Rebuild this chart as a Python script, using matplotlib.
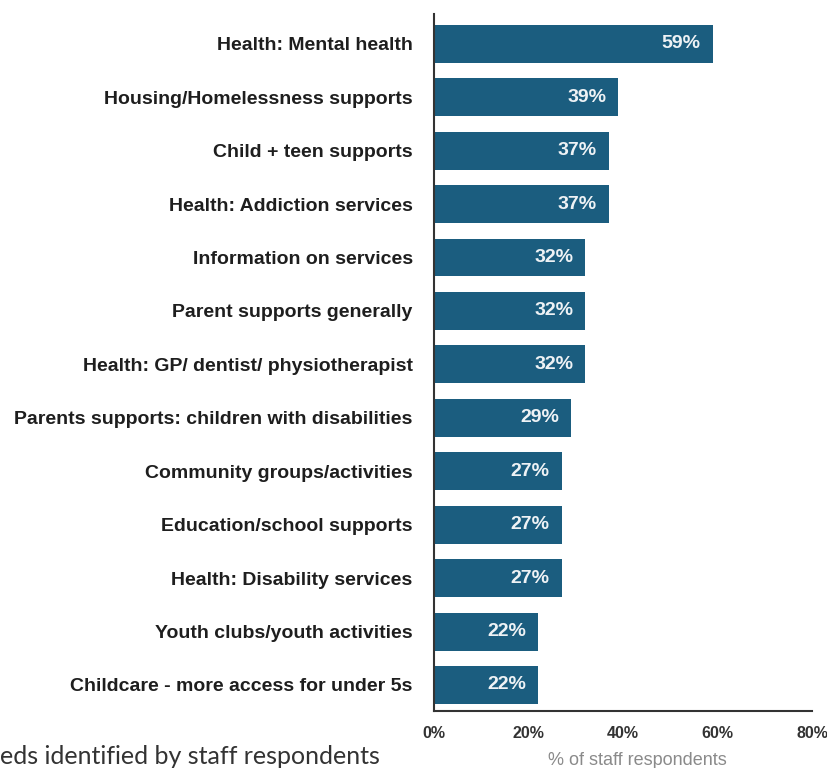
import matplotlib
matplotlib.use('Agg')
import matplotlib.pyplot as plt

categories = [
    'Health: Mental health',
    'Housing/Homelessness supports',
    'Child + teen supports',
    'Health: Addiction services',
    'Information on services',
    'Parent supports generally',
    'Health: GP/ dentist/ physiotherapist',
    'Parents supports: children with disabilities',
    'Community groups/activities',
    'Education/school supports',
    'Health: Disability services',
    'Youth clubs/youth activities',
    'Childcare - more access for under 5s',
]
percent = [59, 39, 37, 37, 32, 32, 32, 29, 27, 27, 27, 22, 22]
xticks = [0, 20, 40, 60, 80]
caption = 'eds identified by staff respondents'

bar_color = '#1b5d7f'

fig = plt.figure(figsize=(8.27, 7.68), dpi=100)
ax = fig.add_axes([0.525, 0.074, 0.457, 0.908])

ypos = list(range(len(categories)))
ax.barh(ypos, percent, height=0.71, color=bar_color)

for y, v in zip(ypos, percent):
    ax.text(v - 2.6, y, f'{v}%', ha='right', va='center', color='#eef2f5',
            fontsize=14, fontweight='bold', family='Liberation Sans')

ax.set_ylim(len(categories) - 0.51, -0.56)
ax.set_xlim(0, 80)
ax.set_yticks(ypos)
ax.set_yticklabels(categories, fontsize=14, fontweight='bold', family='Liberation Sans', color='#1e1e1e')
ax.set_xticks(xticks)
ax.set_xticklabels([f'{t}%' for t in xticks], fontsize=11.5, fontweight='bold', family='Liberation Sans', color='#333333')
ax.tick_params(axis='y', length=0, pad=15.5)
ax.tick_params(axis='x', length=0, pad=11)
ax.set_xlabel('% of staff respondents', fontsize=13, color='#8a8a8a', family='Liberation Sans')
ax.xaxis.set_label_coords(0.537, -0.058)

for side in ['top', 'right']:
    ax.spines[side].set_visible(False)
for side in ['left', 'bottom']:
    ax.spines[side].set_color('#333333')
    ax.spines[side].set_linewidth(1.5)

fig.text(0.0, 1 - 757 / 768, caption, ha='left', va='center', fontsize=18, color='#333333',
         family='Lato')

fig.savefig('out.png', dpi=100)
